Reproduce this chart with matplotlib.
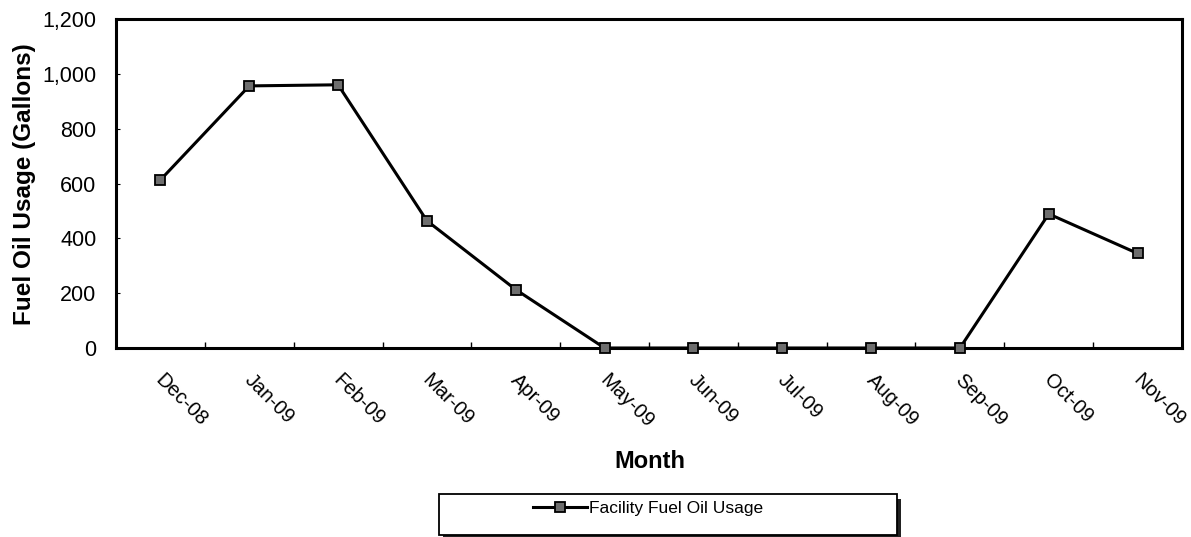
import matplotlib
matplotlib.use("Agg")
import matplotlib.pyplot as plt
from matplotlib.patches import Rectangle
from matplotlib.ticker import FuncFormatter, MultipleLocator
from matplotlib.transforms import ScaledTranslation

months = ["Dec-08", "Jan-09", "Feb-09", "Mar-09", "Apr-09", "May-09",
          "Jun-09", "Jul-09", "Aug-09", "Sep-09", "Oct-09", "Nov-09"]
usage = [613, 956, 960, 464, 213, 0, 0, 0, 0, 0, 489, 345]
series_label = "Facility Fuel Oil Usage"

plt.rcParams["font.family"] = ["Liberation Sans", "DejaVu Sans"]

W, H = 1191, 537
fig = plt.figure(figsize=(W / 100, H / 100), dpi=100)
ax = fig.add_axes([116 / W, 1 - 348 / H, (1182 - 116) / W, (348 - 19) / H])

x = list(range(len(months)))
line, = ax.plot(x, usage, color="black", linewidth=2.2, marker="s", markersize=7,
                markerfacecolor="#6e6e6e", markeredgecolor="black", markeredgewidth=1.3,
                label=series_label, clip_on=False, zorder=3)

ax.set_xlim(-0.5, len(months) - 0.5)
ax.set_ylim(0, 1200)
ax.yaxis.set_major_locator(MultipleLocator(200))
ax.yaxis.set_major_formatter(FuncFormatter(lambda v, _: f"{int(v):,}"))

# category ticks sit between the months, labels under each month
ax.set_xticks([i + 0.5 for i in x[:-1]], minor=True)
ax.set_xticks(x)
ax.set_xticklabels(months, rotation=-45, ha="left", va="top", rotation_mode="anchor", fontsize=14.5)
ax.tick_params(axis="x", which="major", length=0, pad=16)
ax.tick_params(axis="x", which="minor", direction="in", length=4, width=1)
ax.tick_params(axis="y", direction="in", length=3, labelsize=15.5, pad=14)
shift = ScaledTranslation(5 / 100, 0, fig.dpi_scale_trans)
for lbl in ax.get_xticklabels():
    lbl.set_transform(lbl.get_transform() + shift)

for s in ax.spines.values():
    s.set_linewidth(2.2)

ax.set_ylabel("Fuel Oil Usage (Gallons)", fontsize=17.5, fontweight="bold")
ax.yaxis.set_label_coords(36 / W, 1 - 184 / H, transform=fig.transFigure)
fig.text(650 / W, 1 - 462 / H, "Month", fontsize=17, fontweight="bold", ha="center", va="center")

# legend box with a drop shadow on the right
x0, x1, y0, y1 = 439, 897, 494, 535
fig.patches.append(Rectangle(((x0 + 4) / W, 1 - y1 / H - 4 / H), (x1 - x0) / W, (y1 - y0 - 1) / H,
                             transform=fig.transFigure, facecolor="#222222", edgecolor="none", zorder=1))
fig.patches.append(Rectangle((x0 / W, 1 - y1 / H), (x1 - x0) / W, (y1 - y0) / H,
                             transform=fig.transFigure, facecolor="white", edgecolor="black",
                             linewidth=1.3, zorder=2))
leg = fig.legend(handles=[line], loc="center", bbox_to_anchor=(648 / W, 1 - 508 / H),
                 frameon=False, fontsize=12.5, handlelength=3.1, handletextpad=0.15,
                 borderaxespad=0)
leg.set_zorder(3)

fig.savefig("out.png", dpi=100)
